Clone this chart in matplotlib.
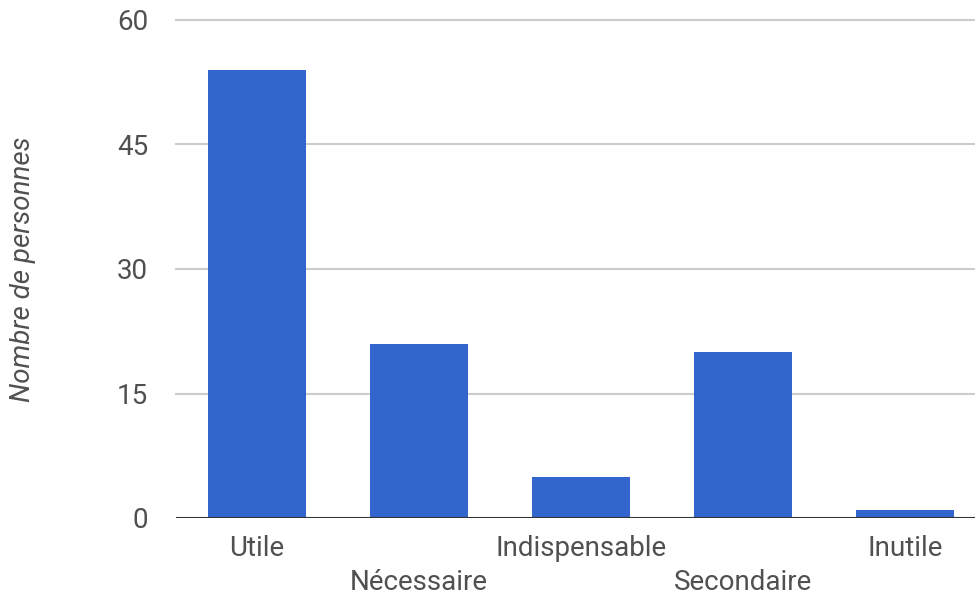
import matplotlib
matplotlib.use("Agg")
import matplotlib.pyplot as plt

categories = ["Utile", "Nécessaire", "Indispensable", "Secondaire", "Inutile"]
values = [54, 21, 5, 20, 1]
yticks = [0, 15, 30, 45, 60]

plt.rcParams['font.family'] = ['Roboto', 'DejaVu Sans']
TXT = '#505050'

fig = plt.figure(figsize=(9.75, 5.95), dpi=100)
ax = fig.add_axes([176/975, (595-518)/595, (975-176)/975, (518-20)/595])

x = list(range(len(categories)))
ax.bar(x, values, width=0.605, color='#3366cc', zorder=3)
ax.set_xlim(-0.5, -0.5 + (975-176)/162)
ax.set_ylim(0, 60)
ax.set_yticks(yticks)
ax.set_yticklabels([str(v) for v in yticks])
for yv in yticks[1:]:
    ax.axhline(yv, color='#cccccc', lw=1.5, zorder=1, clip_on=False)
ax.axhline(0, color='#333333', lw=1.5, zorder=4)

ax.set_xticks(x)
ax.set_xticklabels(categories)
for i, t in enumerate(ax.xaxis.get_major_ticks()):
    t.set_pad(12 if i % 2 == 0 else 37)

for s in ax.spines.values():
    s.set_visible(False)
ax.tick_params(axis='both', length=0, colors=TXT, labelsize=20)
ax.tick_params(axis='y', pad=20)
ax.set_ylabel('Nombre de personnes', fontsize=20, style='italic', color=TXT, labelpad=0)
ax.yaxis.set_label_coords(-140/799, 0.5)

fig.savefig('out.png', dpi=100)
